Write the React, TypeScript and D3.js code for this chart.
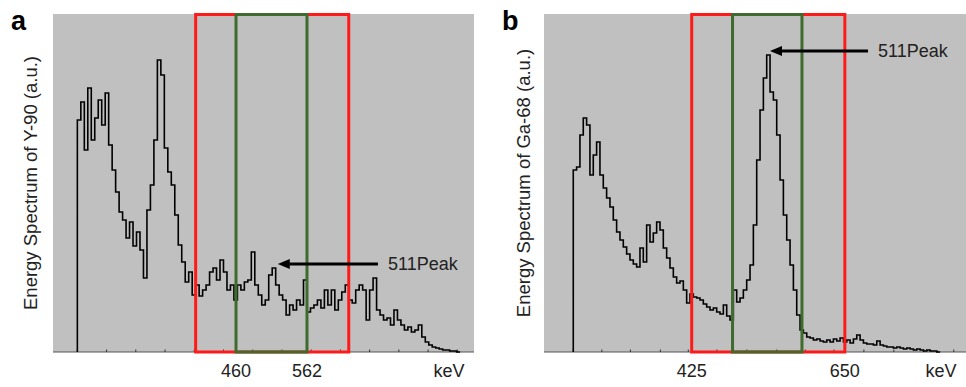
import React from 'react';
import * as d3 from 'd3';

// Y-90 spectrum (panel a), histogram bin heights in a.u.
const Y90_START_KEV = 232;
const Y90_BIN_KEV = 5;
const Y90_COUNTS = [
  232, 250, 202, 264, 212, 234, 252, 227, 259, 207,
  182, 160, 140, 132, 114, 130, 106, 120, 102, 74,
  142, 167, 212, 292, 277, 204, 180, 167, 137, 107,
  90, 70, 80, 57, 67, 56, 62, 67, 80, 84,
  72, 92, 80, 62, 67, 52, 67, 62, 70, 72,
  100, 67, 57, 47, 52, 77, 84, 67, 57, 52,
  37, 47, 42, 52, 47, 72, 40, 44, 47, 52,
  44, 62, 47, 62, 42, 52, 60, 67, 52, 49,
  62, 67, 62, 32, 62, 74, 42, 37, 32, 34,
  27, 42, 32, 27, 22, 25, 20, 22, 27, 15,
  10, 7, 5, 4, 3, 2, 2, 1, 1, 0,
];

// Ga-68 spectrum (panel b)
const GA68_START_KEV = 251;
const GA68_BIN_KEV = 4.9;
const GA68_COUNTS = [
  182, 185, 217, 234, 227, 177, 197, 210, 177, 164,
  154, 145, 132, 120, 112, 105, 98, 92, 88, 85,
  104, 90, 127, 110, 119, 130, 122, 104, 94, 84,
  75, 69, 71, 62, 49, 58, 55, 54, 52, 48,
  45, 42, 44, 40, 38, 47, 36, 32, 62, 50,
  54, 62, 72, 87, 127, 192, 242, 274, 297, 260,
  252, 217, 172, 137, 112, 87, 62, 37, 22, 19,
  15, 14, 12, 13, 11, 10, 12, 10, 13, 11,
  14, 10, 12, 9, 13, 17, 12, 9, 8, 8,
  7, 11, 7, 6, 5, 5, 4, 5, 4, 3,
  4, 3, 2, 3, 2, 1, 2, 1, 1, 0,
];

const Y90_DOMAIN = [197, 802];
const GA68_DOMAIN = [208, 828];

const Y90_TICKS = [232, 274, 316, 358, 400, 442, 484, 526, 568, 610, 652, 694, 736, 778];
const GA68_TICKS = [251, 293, 335, 379, 420, 462, 506, 550, 592, 634, 678, 722, 766, 810];

const Y90_OUTER = [402, 622];
const Y90_INNER = [460, 562];
const GA68_OUTER = [425, 650];
const GA68_INNER = [485, 587];

const Y90_LABELS = [460, 562];
const GA68_LABELS = [425, 650];

// arrow: [tipKeV, tailKeV, height]
const Y90_ARROW = [520, 664, 88];
const GA68_ARROW = [540, 684, 301];

const FONT = 'Liberation Sans, Arial, sans-serif';

function Panel({ left, right, letter, title, domain, start, bin, counts, ticks, outer, inner, labels, arrow, titleX }) {
  const top = 14;
  const bottom = 352;
  const x = d3.scaleLinear().domain(domain).range([left, right]);
  const y = d3.scaleLinear().domain([0, 338]).range([bottom, top]);

  const pts = [[start, 0]];
  counts.forEach((c, i) => pts.push([start + i * bin, c]));
  pts.push([start + counts.length * bin, counts[counts.length - 1]]);
  const line = d3
    .line()
    .x((d) => x(d[0]))
    .y((d) => y(d[1]))
    .curve(d3.curveStepAfter);

  const tip = x(arrow[0]);
  const tail = x(arrow[1]);
  const ay = y(arrow[2]);

  return (
    <g>
      <rect x={left} y={top} width={right - left} height={bottom - top} fill="#c0c0c0" />
      <line x1={left} x2={right} y1={bottom} y2={bottom} stroke="#555" strokeWidth={1} />
      {ticks.map((t) => (
        <line key={t} x1={x(t)} x2={x(t)} y1={bottom} y2={bottom - 2.5} stroke="#333" strokeWidth={1} />
      ))}
      <path d={line(pts)} fill="none" stroke="#000" strokeWidth={1.6} />
      <rect
        x={x(outer[0])}
        y={top + 0.5}
        width={x(outer[1]) - x(outer[0])}
        height={bottom - top - 0.5}
        fill="none"
        stroke="#ff1a1a"
        strokeWidth={3}
      />
      <rect
        x={x(inner[0])}
        y={top + 0.5}
        width={x(inner[1]) - x(inner[0])}
        height={bottom - top - 0.5}
        fill="none"
        stroke="#3f6b2f"
        strokeWidth={3}
      />
      <line x1={tail} x2={tip + 10} y1={ay} y2={ay} stroke="#000" strokeWidth={3} />
      <polygon points={`${tip},${ay} ${tip + 12},${ay - 5} ${tip + 12},${ay + 5}`} fill="#000" />
      <text x={tail + 10} y={ay + 6} fontFamily={FONT} fontSize={18} fill="#222">
        511Peak
      </text>
      {labels.map((l) => (
        <text key={l} x={x(l)} y={377} textAnchor="middle" fontFamily={FONT} fontSize={18} fill="#222">
          {l}
        </text>
      ))}
      <text x={right - 25} y={377} textAnchor="middle" fontFamily={FONT} fontSize={18} fill="#222">
        keV
      </text>
      <text
        transform={`translate(${titleX},183) rotate(-90)`}
        textAnchor="middle"
        fontFamily={FONT}
        fontSize={18.5}
        fill="#222"
      >
        {title}
      </text>
      <text x={left - 42} y={30} fontFamily={FONT} fontSize={27} fontWeight="bold" fill="#000">
        {letter}
      </text>
    </g>
  );
}

export default function App() {
  return (
    <svg
      width={966}
      height={387}
      style={{ position: 'absolute', left: 0, top: 0, background: '#fff' }}
    >
      <Panel
        left={53}
        right={474}
        letter="a"
        title="Energy Spectrum of Y-90 (a.u.)"
        titleX={37}
        domain={Y90_DOMAIN}
        start={Y90_START_KEV}
        bin={Y90_BIN_KEV}
        counts={Y90_COUNTS}
        ticks={Y90_TICKS}
        outer={Y90_OUTER}
        inner={Y90_INNER}
        labels={Y90_LABELS}
        arrow={Y90_ARROW}
      />
      <Panel
        left={544}
        right={966}
        letter="b"
        title="Energy Spectrum of Ga-68 (a.u.)"
        titleX={530}
        domain={GA68_DOMAIN}
        start={GA68_START_KEV}
        bin={GA68_BIN_KEV}
        counts={GA68_COUNTS}
        ticks={GA68_TICKS}
        outer={GA68_OUTER}
        inner={GA68_INNER}
        labels={GA68_LABELS}
        arrow={GA68_ARROW}
      />
    </svg>
  );
}
